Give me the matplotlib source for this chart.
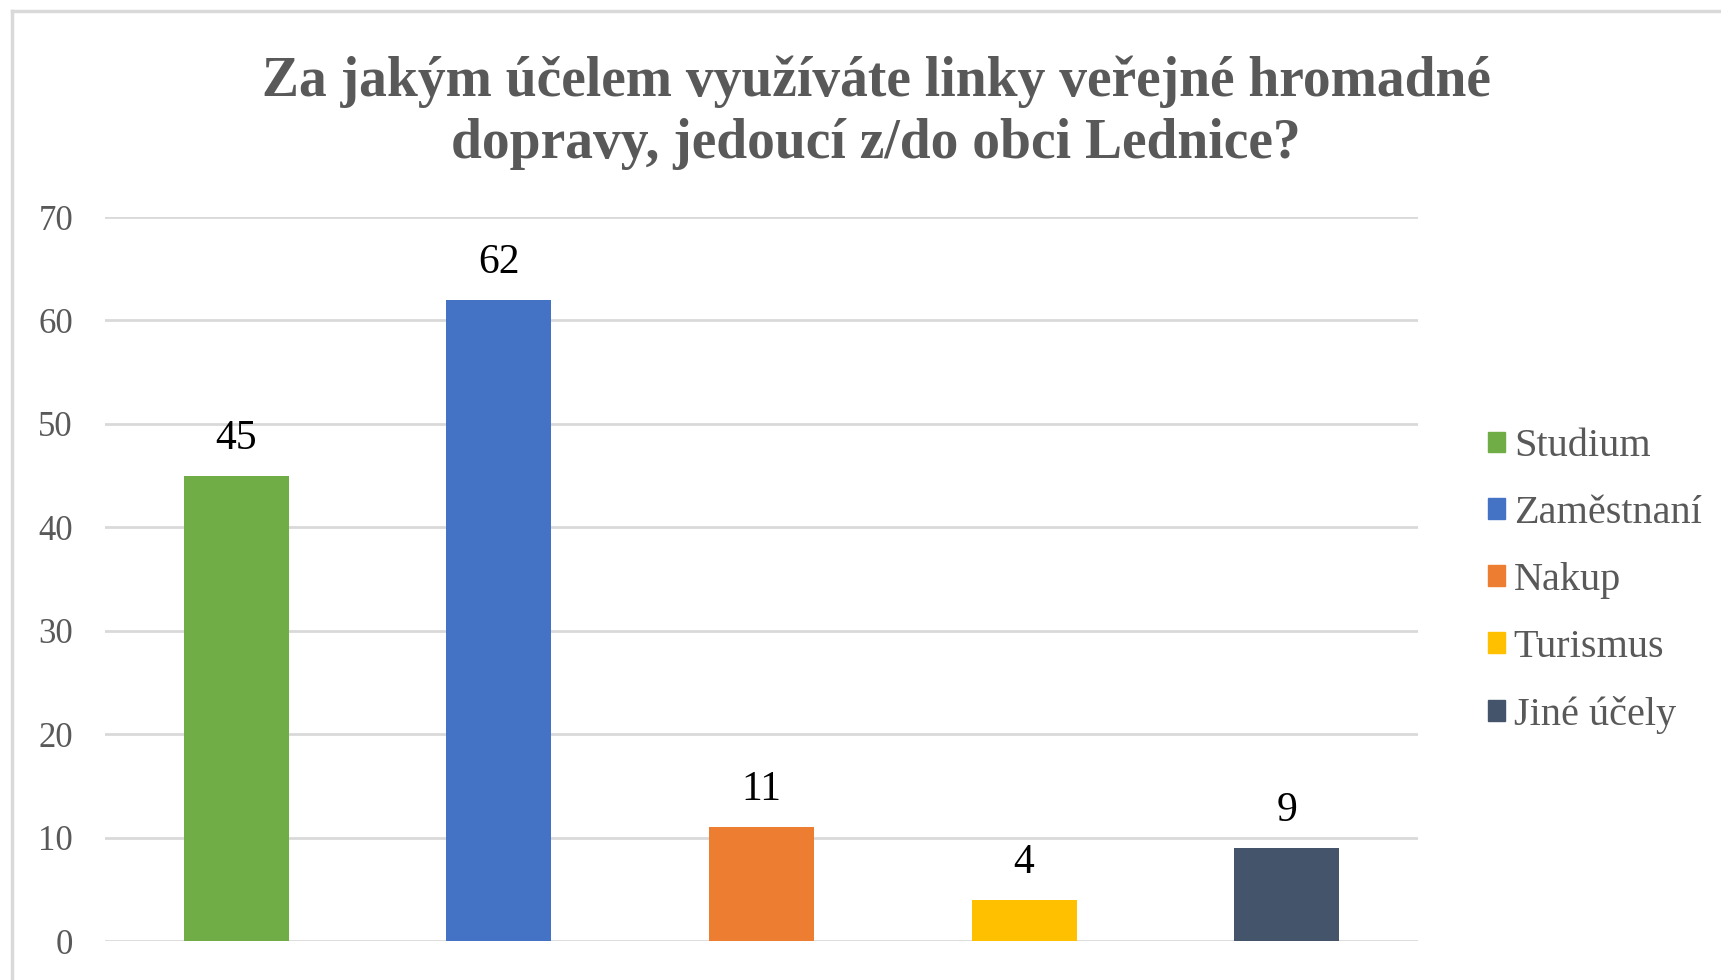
import matplotlib
matplotlib.use("Agg")
from matplotlib import pyplot as plt
from matplotlib.lines import Line2D

categories = ["Studium", "Zaměstnaní", "Nakup", "Turismus", "Jiné účely"]
values = [45, 62, 11, 4, 9]
colors = ["#70AD47", "#4472C4", "#ED7D31", "#FFC000", "#44546A"]
yticks = [0, 10, 20, 30, 40, 50, 60, 70]
title = "Za jakým účelem využíváte linky veřejné hromadné\ndopravy, jedoucí z/do obci Lednice?"

plt.rcParams["font.family"] = ["Liberation Serif", "DejaVu Serif"]
W, H = 1721, 980
fig = plt.figure(figsize=(W / 100, H / 100), dpi=100)
fig.patch.set_facecolor("white")

ax = fig.add_axes([105 / W, 39 / H, (1418 - 105) / W, (941 - 217) / H])
x = list(range(len(values)))
bars = ax.bar(x, values, width=0.4, color=colors, zorder=3)
ax.set_xlim(-0.5, len(values) - 0.5)
ax.set_ylim(0, 70)
ax.set_yticks(yticks)
ax.set_xticks([])
ax.grid(axis="y", color="#D9D9D9", linewidth=2, zorder=0)
for s in ax.spines.values():
    s.set_visible(False)
ax.tick_params(axis="y", length=0, pad=23, labelsize=25, labelcolor="#595959")

for b, v in zip(bars, values):
    ax.text(b.get_x() + b.get_width() / 2, v + 2.6, str(v),
            ha="center", va="baseline", fontsize=30, color="black")

fig.text(876 / W, 1 - 113 / H, title, ha="center", va="center",
         fontsize=40, fontweight="bold", color="#595959", linespacing=1.26)

handles = [plt.Rectangle((0, 0), 1, 1, color=c) for c in colors]
fig.legend(handles, categories, loc="center left",
           bbox_to_anchor=(1488 / W, 1 - 581 / H), frameon=False,
           borderpad=0, borderaxespad=0,
           fontsize=29, labelcolor="#595959", handlelength=0.42,
           handleheight=0.42, handletextpad=0.22, labelspacing=0.74)

# frame lines of the cropped chart area
fig.add_artist(Line2D([12 / W, 1], [1 - 11 / H, 1 - 11 / H], color="#D9D9D9",
                      linewidth=2.5, transform=fig.transFigure))
fig.add_artist(Line2D([12 / W, 12 / W], [0, 1 - 11 / H], color="#D9D9D9",
                      linewidth=2.5, transform=fig.transFigure))

fig.savefig("out.png", dpi=100)
